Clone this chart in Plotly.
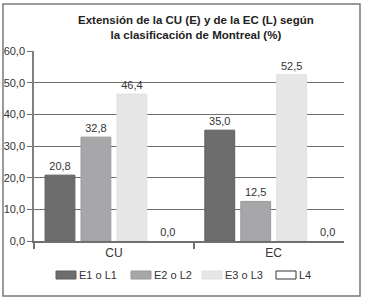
import plotly.graph_objects as go

categories = ["CU", "EC"]
series_names = ["E1 o L1", "E2 o L2", "E3 o L3", "L4"]
e1_l1 = [20.8, 35.0]
e2_l2 = [32.8, 12.5]
e3_l3 = [46.4, 52.5]
l4 = [0.0, 0.0]
y_ticks = [0, 10, 20, 30, 40, 50, 60]

series_values = [e1_l1, e2_l2, e3_l3, l4]
fills = ["#6d6d6d", "#a7a7a9", "#e6e6e6", "#ffffff"]
lines = ["#5f5f5f", "#9a9a9c", "#e0e0e0", "#333333"]
bar_line_w = [1, 1, 1, 0]

FONT = "Liberation Sans Narrow, Arial Narrow, Liberation Sans, Arial, sans-serif"

fig = go.Figure()
for name, vals, fc, lc, lw in zip(series_names, series_values, fills, lines, bar_line_w):
    fig.add_trace(go.Bar(
        x=categories, y=vals, name=name,
        marker=dict(color=fc, line=dict(color=lc, width=lw)),
        texttemplate="%{y:.1f}", textposition="outside",
        textfont=dict(family=FONT, size=11, color="#333333"),
        cliponaxis=False, showlegend=False,
    ))

# plot area geometry (pixels) for paper-coordinate conversions
L, R, T, B = 34, 26, 51, 59
PW, PH = 370 - L - R, 300 - T - B

def px(x):
    return (x - L) / PW

def py(y):
    return (300 - B - y) / PH

shapes = []
annotations = []
# outer border
shapes.append(dict(type="rect", xref="paper", yref="paper",
                   x0=px(3), x1=px(360), y0=py(296), y1=py(4),
                   line=dict(color="#7a7a7a", width=1.5), fillcolor="rgba(0,0,0,0)", layer="below"))
# manual legend
leg_x = [56, 131, 202, 276]
for name, fc, lc, lx in zip(series_names, fills, lines, leg_x):
    shapes.append(dict(type="rect", xref="paper", yref="paper",
                       x0=px(lx), x1=px(lx + 20), y0=py(279), y1=py(271),
                       fillcolor=fc, line=dict(color=lc, width=1)))
    annotations.append(dict(xref="paper", yref="paper", x=px(lx + 21), y=py(275),
                            xanchor="left", yanchor="middle", showarrow=False,
                            text=name, font=dict(family=FONT, size=11, color="#333333")))

# title as annotation for exact placement
annotations.append(dict(xref="paper", yref="paper", x=px(196), y=py(27),
                        xanchor="center", yanchor="middle", showarrow=False,
                        text="<b>Extensión de la CU (E) y de la EC (L) según<br>la clasificación de Montreal (%)</b>",
                        font=dict(family=FONT, size=11.5, color="#222222")))

fig.update_layout(
    width=370, height=300,
    margin=dict(l=L, r=R, t=T, b=B, autoexpand=False),
    paper_bgcolor="white", plot_bgcolor="white",
    separators=",.",
    barmode="group", bargap=0.1, bargroupgap=0.17,
    font=dict(family=FONT, size=11, color="#333333"),
    shapes=shapes, annotations=annotations,
    xaxis=dict(type="category", range=[-0.5, 1.44], showgrid=False,
               showline=True, linecolor="#707070", linewidth=1.5,
               ticks="outside", tickson="boundaries", ticklen=6, tickcolor="#707070", tickwidth=1.5,
               tickfont=dict(family=FONT, size=12, color="#333333")),
    yaxis=dict(range=[0, 60], tickvals=y_ticks, tickformat=".1f",
               showgrid=True, gridcolor="#707070", gridwidth=1,
               showline=True, linecolor="#808080", linewidth=1.5,
               ticks="outside", ticklen=5, tickcolor="#707070", tickwidth=1,
               zeroline=False,
               tickfont=dict(family=FONT, size=11, color="#333333")),
)

fig.write_html("out.html", config={"displayModeBar": False},
               post_script="document.body.style.margin='0';document.body.style.padding='0';")
